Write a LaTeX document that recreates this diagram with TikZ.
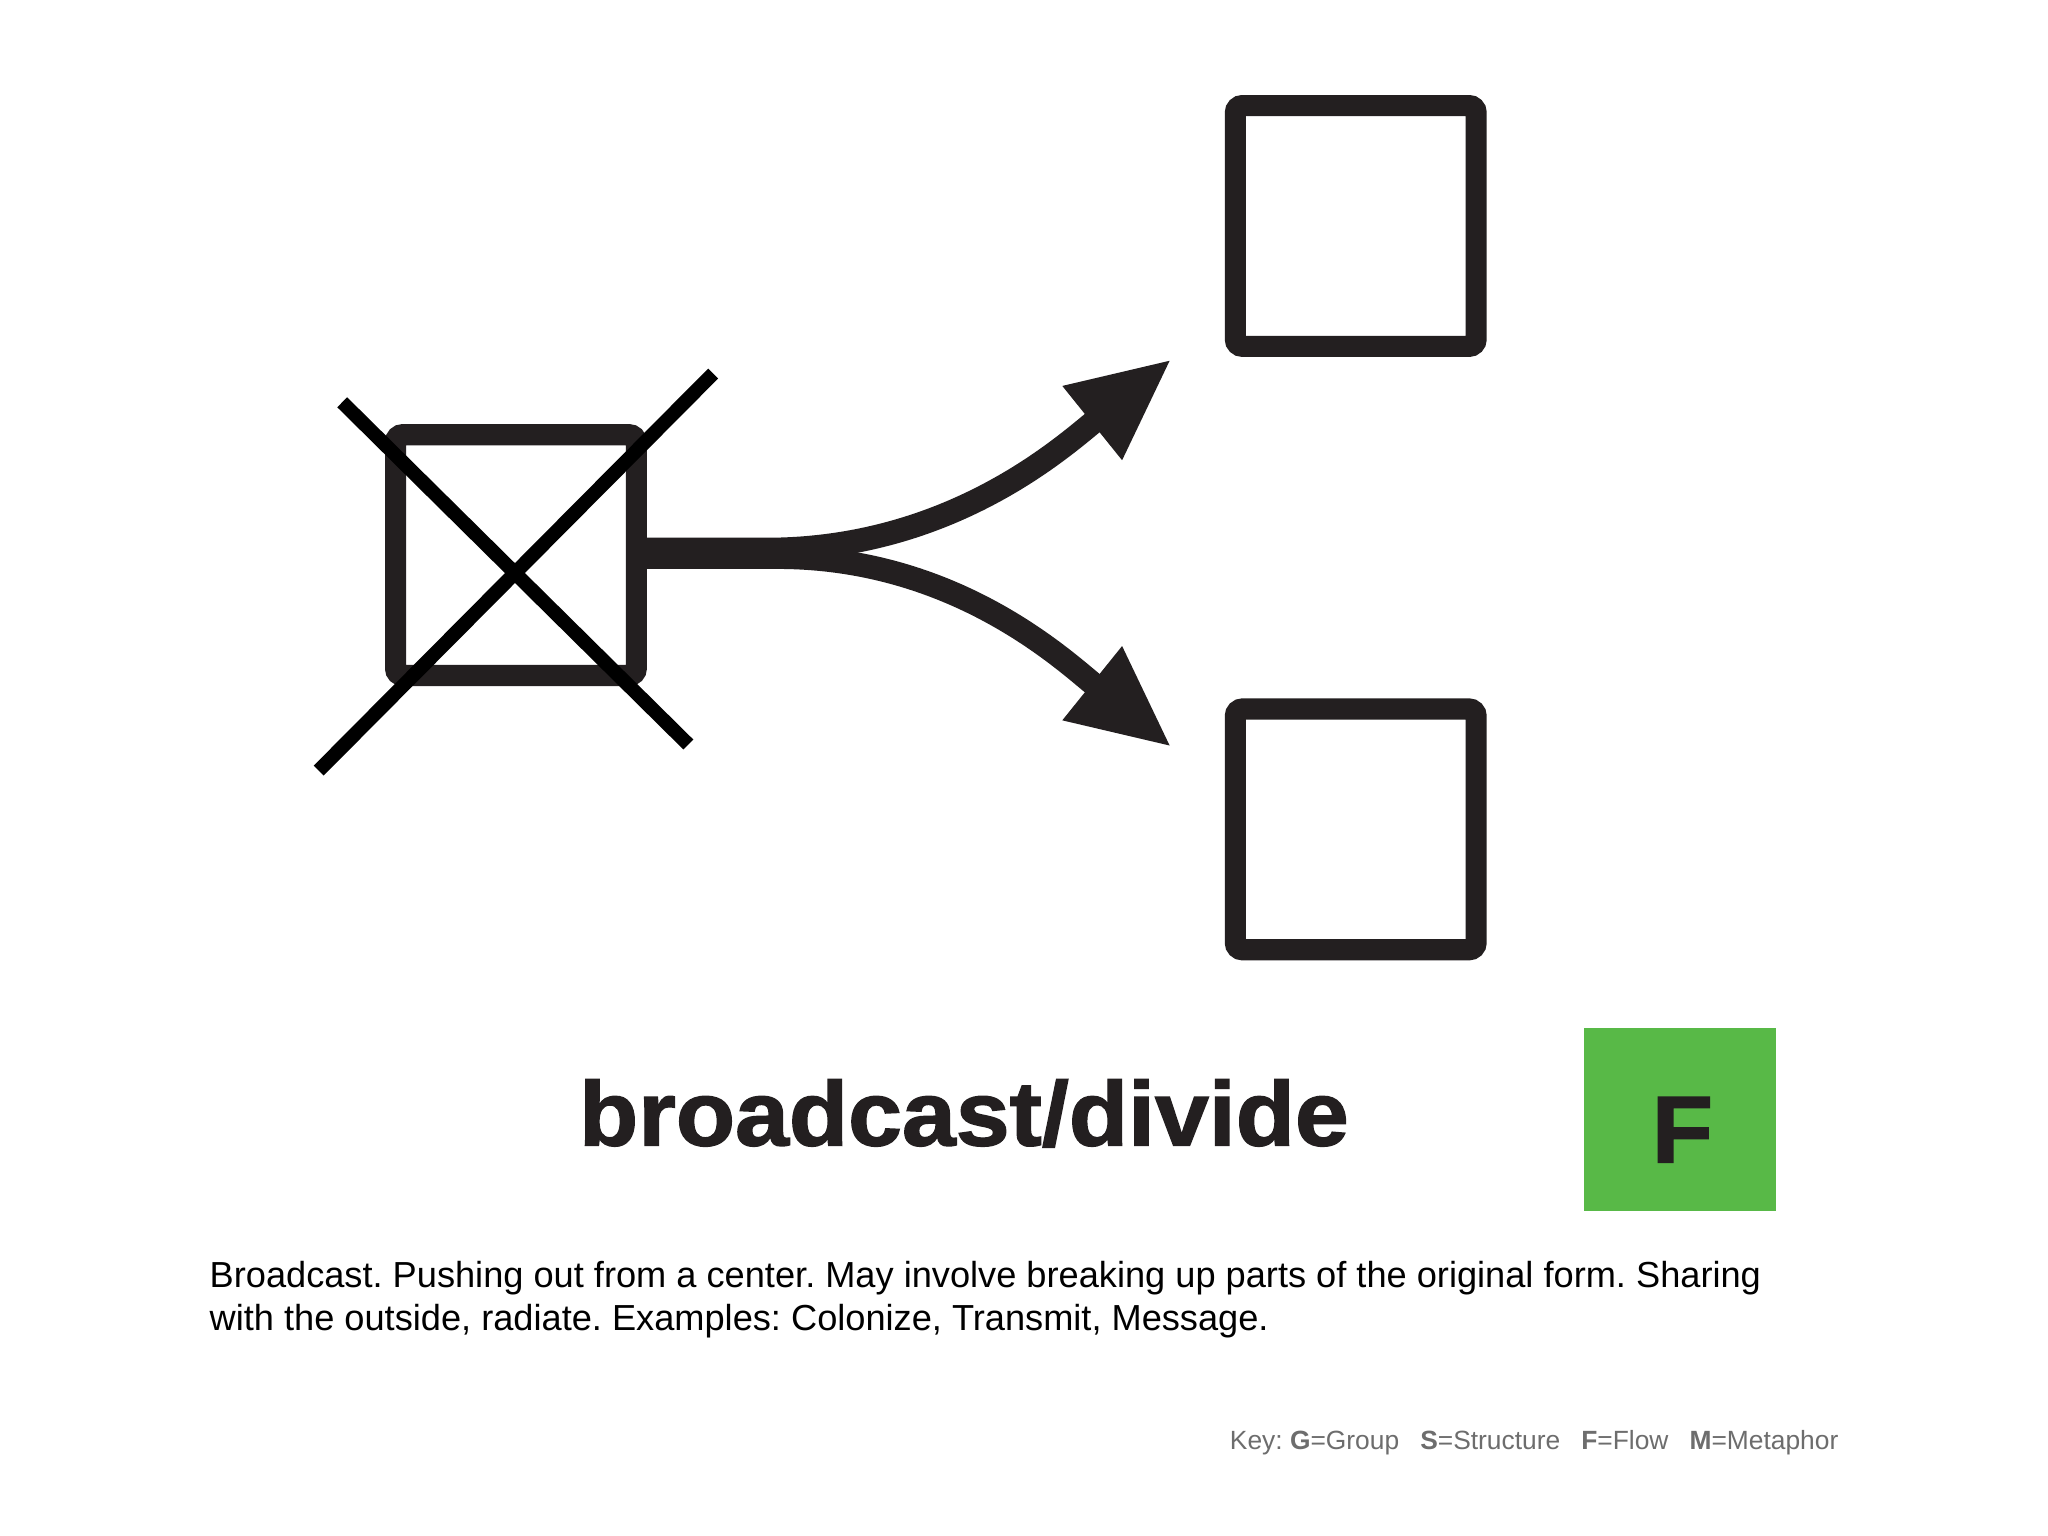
\documentclass[tikz,border=0pt]{standalone}
\usepackage{fontspec}
\setmainfont{Liberation Sans}
\newfontfamily\heavyfont[FakeBold=1.6,FakeStretch=1.06]{Liberation Sans Bold}
\usetikzlibrary{arrows.meta}
\definecolor{ink}{HTML}{231F20}
\definecolor{keygray}{HTML}{6D6D6D}
\definecolor{flowgreen}{HTML}{58B947}
\frenchspacing
\begin{document}
\begin{tikzpicture}
      [x=0.01306cm,y=-0.01306cm,
       box/.style={draw=ink,line width=6pt,rounded corners=2pt,minimum size=68.5pt,inner sep=0pt},
       cross/.style={draw=black,line width=4pt},
       branch/.style={draw=ink,line width=6.7pt,-{Triangle[length=29pt,width=25pt]}},
       flagbox/.style={fill=flowgreen,minimum width=54.6pt,minimum height=52pt,inner sep=0pt}]
      \useasboundingbox[fill=white] (0,0) rectangle (1568,1176);
      % boxes
      \node[box] (source) at (395,425) {};
      \node[box] (upper) at (1038,173) {};
      \node[box] (lower) at (1038,635) {};
      \coordinate (tipup) at (897,275);
      \coordinate (tipdown) at (897,572);
      % crossing out
      \draw[cross] (262,308) -- (527,570);
      \draw[cross] (546,286) -- (244,590);
      % split
      \draw[branch] ([yshift=1.6pt]source.east) -- ++(96,0)
        .. controls (730,419) and (815,341) .. (tipup);
      \draw[branch] ([yshift=-0.6pt]source.east) -- ++(96,0)
        .. controls (730,425) and (815,506) .. (tipdown);
      % labels
      \node[anchor=base,text=ink,font=\heavyfont\fontsize{26}{30}\selectfont] (title) at (738,877) {broadcast/divide};
      \node[flagbox] (flag) at (1286,857) {};
      \node[anchor=base,text=ink,font=\heavyfont\fontsize{27}{30}\selectfont] (flagletter) at (1288,890) {F};
      \node[anchor=base west,align=left,inner sep=0pt,font=\fontsize{10.3}{12.3}\selectfont] (text) at (160,1019)
        {Broadcast. Pushing out from a center. May involve breaking up parts of the original form. Sharing\\
         with the outside, radiate. Examples: Colonize, Transmit, Message.};
      \node[anchor=base east,inner sep=0pt,text=keygray,font=\fontsize{7.5}{9}\selectfont] (key) at (1408,1110)
        {Key: \textbf{G}=Group\hspace{0.8em}\textbf{S}=Structure\hspace{0.8em}\textbf{F}=Flow\hspace{0.8em}\textbf{M}=Metaphor};
    \end{tikzpicture}
\end{document}
